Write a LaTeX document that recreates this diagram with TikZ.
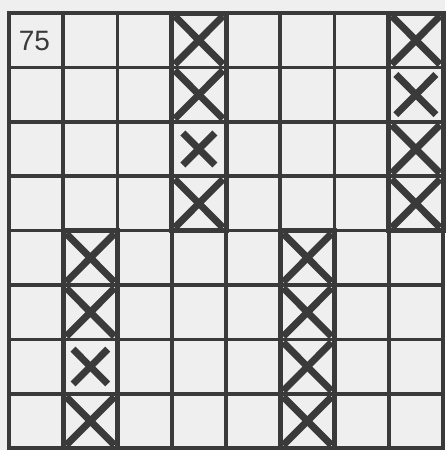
\documentclass[tikz,border=0pt]{standalone}
\usepackage{fontspec}
\setmainfont{Liberation Sans}
\definecolor{ink}{HTML}{3A3A3A}
\definecolor{paper}{HTML}{EFEFEF}
\begin{document}
\begin{tikzpicture}[x=1pt,y=-1pt,
  gridline/.style={ink, line width=3.6pt},
  crossline/.style={ink, line width=7pt},
  colborder/.style={ink, line width=5pt},
  numlabel/.style={font=\fontsize{28}{28}\selectfont, text=ink, inner sep=0pt}]
\fill[paper] (0,0) rectangle (445,450);
\useasboundingbox (0,0) rectangle (445,450);
\pgfmathsetmacro{\cw}{54.25}
\pgfmathsetmacro{\ch}{54.4}
% grid
\foreach \i in {0,...,8}{
  \draw[gridline] ({9+\cw*\i},11.2) -- ({9+\cw*\i},450);
}
\foreach \j in {0,...,8}{
  \draw[gridline] (7.2,{13+\ch*\j}) -- (445,{13+\ch*\j});
}
% crosses: col, row, scale
\foreach \c/\r/\s in {3/0/1, 3/1/1, 3/2/0.7, 3/3/1,
                      7/0/1, 7/1/0.85, 7/2/1, 7/3/1,
                      1/4/1, 1/5/1, 1/6/0.75, 1/7/1,
                      5/4/1, 5/5/1, 5/6/1, 5/7/1}{
  \pgfmathsetmacro{\xa}{9+\cw*\c}
  \pgfmathsetmacro{\ya}{13+\ch*\r}
  \pgfmathsetmacro{\dx}{\cw*(1-\s)/2+3}
  \pgfmathsetmacro{\dy}{\ch*(1-\s)/2+3}
  \begin{scope}
    \clip (\xa,\ya) rectangle ({\xa+\cw},{\ya+\ch});
    \draw[crossline] ({\xa+\dx},{\ya+\dy}) -- ({\xa+\cw-\dx},{\ya+\ch-\dy});
    \draw[crossline] ({\xa+\cw-\dx},{\ya+\dy}) -- ({\xa+\dx},{\ya+\ch-\dy});
  \end{scope}
}
% column borders
\foreach \c/\r in {3/0, 7/0, 1/4, 5/4}{
  \pgfmathsetmacro{\xa}{9+\cw*\c}
  \pgfmathsetmacro{\ya}{13+\ch*\r}
  \draw[colborder] (\xa,\ya) rectangle ({\xa+\cw},{\ya+4*\ch});
}
\node[numlabel] (num) at (34.5,41) {75};
\end{tikzpicture}
\end{document}
